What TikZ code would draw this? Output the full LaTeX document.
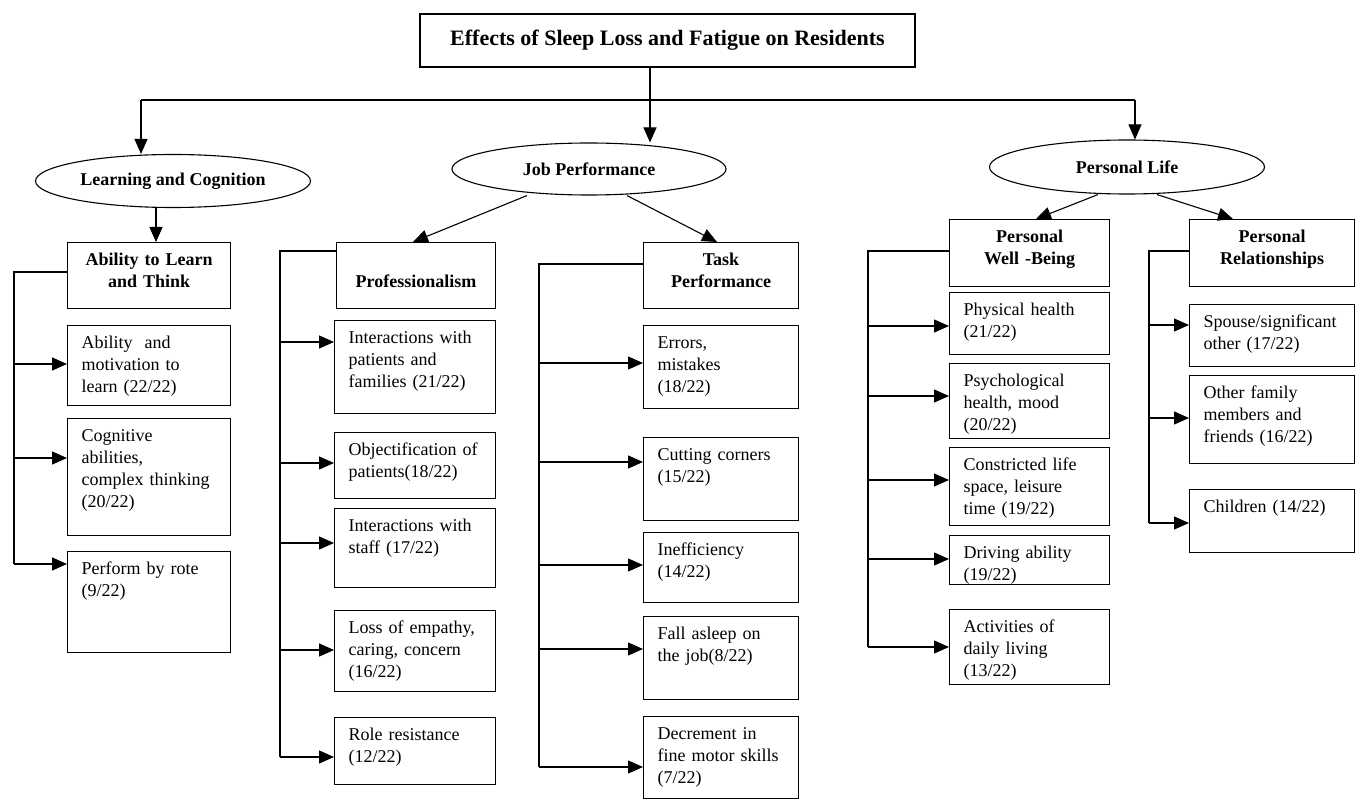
\documentclass[tikz,border=0pt]{standalone}
\usepackage{fontspec}
\setmainfont{Liberation Serif}
\usetikzlibrary{calc}
\usetikzlibrary{arrows.meta}
\usetikzlibrary{shapes.geometric}

\begin{document}
\begin{tikzpicture}[x=1pt,y=-1pt,line width=1.1pt,
  tip/.style={-{Triangle[length=15pt,width=13pt]}},
  title/.style={draw,minimum width=495pt,minimum height=53pt,font=\fontsize{22}{26}\selectfont\bfseries},
  branch/.style={draw,ellipse,inner sep=0pt,font=\fontsize{18}{22}\selectfont\bfseries},
  head/.style 2 args={draw,anchor=north west,align=center,inner xsep=0pt,inner ysep=10pt,
    text height=13pt,text width=#1,text depth=#2,font=\fontsize{18}{22}\selectfont\bfseries},
  leaf/.style 2 args={draw,anchor=north west,align=left,inner xsep=14pt,inner ysep=10pt,
    text height=13pt,text width=#1,text depth=#2,font=\fontsize{18}{22}\selectfont}]
\useasboundingbox (0,0) rectangle (1355,799);

% top level
\node[title] (title) at (667.5,40.5) {Effects of Sleep Loss and Fatigue on Residents};
\node[branch,minimum width=275pt,minimum height=53pt] (lc) at (173,181) {Learning and Cognition};
\node[branch,minimum width=274pt,minimum height=52pt] (jp) at (589,169) {Job Performance};
\node[branch,minimum width=275pt,minimum height=54pt] (pl) at (1127,167) {Personal Life};

\coordinate (split) at (650,100);
\coordinate (barL) at (141,100);
\coordinate (barR) at (1135,100);
\draw (title.south -| split) -- (split);
\draw (barL) -- (barR);
\draw[tip] (barL) -- (barL |- lc.north);
\draw[tip] (split) -- (split |- jp.north);
\draw[tip] (barR) -- (barR |- pl.north);

% second level
\node[head={163pt}{33pt}] (abl) at (67,242) {Ability to Learn\\and Think};
\node[head={159pt}{11pt},text height=35pt] (prof) at (336,242) {Professionalism};
\node[head={155pt}{33pt}] (task) at (643,242) {Task\\Performance};
\node[head={160pt}{34pt}] (pwb) at (949,219) {Personal\\Well -Being};
\node[head={165pt}{34pt}] (prel) at (1189,219) {Personal\\Relationships};

\draw[tip] (lc.south -| 156,0) -- (abl.north -| 156,0);
\draw[tip] (jp.south -| 527,0) -- (prof.north -| 413,0);
\draw[tip] (jp.south -| 627,0) -- (task.north -| 717,0);
\draw[tip] (pl.south -| 1098,0) -- (pwb.north -| 1036,0);
\draw[tip] (pl.south -| 1157,0) -- (prel.north -| 1233,0);

% learning and cognition
\node[leaf={135pt}{47pt}] (ab1) at (67,325) {Ability~ and\\motivation to\\learn (22/22)};
\node[leaf={135pt}{84pt}] (ab2) at (67,418) {Cognitive\\abilities,\\complex thinking\\(20/22)};
\node[leaf={135pt}{68pt}] (ab3) at (67,551) {Perform by rote\\(9/22)};

% professionalism
\node[leaf={133pt}{60pt}] (pr1) at (334,320) {Interactions with\\patients and\\families (21/22)};
\node[leaf={133pt}{33pt}] (pr2) at (334,432) {Objectification of\\patients(18/22)};
\node[leaf={133pt}{46pt}] (pr3) at (334,508) {Interactions with\\staff (17/22)};
\node[leaf={133pt}{48pt}] (pr4) at (334,610) {Loss of empathy,\\caring, concern\\(16/22)};
\node[leaf={133pt}{34pt}] (pr5) at (334,717) {Role resistance\\(12/22)};

% task performance
\node[leaf={127pt}{50pt}] (tp1) at (643,325) {Errors,\\mistakes\\(18/22)};
\node[leaf={127pt}{50pt}] (tp2) at (643,437) {Cutting corners\\(15/22)};
\node[leaf={127pt}{37pt}] (tp3) at (643,532) {Inefficiency\\(14/22)};
\node[leaf={127pt}{50pt}] (tp4) at (643,616) {Fall asleep on\\the job(8/22)};
\node[leaf={127pt}{49pt}] (tp5) at (643,716) {Decrement in\\fine motor skills\\(7/22)};

% well-being
\node[leaf={132pt}{29pt}] (wb1) at (949,292) {Physical health\\(21/22)};
\node[leaf={132pt}{42pt}] (wb2) at (949,363) {Psychological\\health, mood\\(20/22)};
\node[leaf={132pt}{45pt}] (wb3) at (949,447) {Constricted life\\space, leisure\\time (19/22)};
\node[leaf={132pt}{16pt}] (wb4) at (949,535) {Driving ability\\(19/22)};
\node[leaf={132pt}{42pt}] (wb5) at (949,609) {Activities of\\daily living\\(13/22)};

% relationships
\node[leaf={137pt}{29pt}] (rl1) at (1189,304) {Spouse/significant\\other (17/22)};
\node[leaf={137pt}{55pt}] (rl2) at (1189,375) {Other family\\members and\\friends (16/22)};
\node[leaf={137pt}{30pt}] (rl3) at (1189,489) {Children (14/22)};

% brackets
\foreach \hd/\sx/\sy/\ey in {abl/14/272/564, prof/280/251/757, task/539/264/767,
    pwb/868/251/647, prel/1149/251/523}
  \draw (\hd.west |- 0,\sy) -| (\sx,\ey);
\foreach \lf/\sx/\y in {ab1/14/364, ab2/14/458, ab3/14/564,
    pr1/280/342, pr2/280/463, pr3/280/543, pr4/280/650, pr5/280/757,
    tp1/539/363, tp2/539/462, tp3/539/565, tp4/539/649, tp5/539/767,
    wb1/868/326, wb2/868/396, wb3/868/480, wb4/868/559, wb5/868/647,
    rl1/1149/325, rl2/1149/418, rl3/1149/523}
  \draw[tip] (\sx,\y) -- (\lf.west |- 0,\y);
\end{tikzpicture}
\end{document}
